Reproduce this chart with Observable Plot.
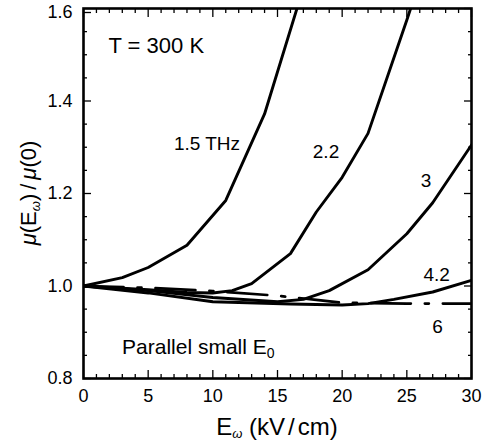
<!DOCTYPE html>
<html><head><meta charset="utf-8">
<script src="https://cdn.jsdelivr.net/npm/d3@7"></script>
<script src="https://cdn.jsdelivr.net/npm/@observablehq/plot@0.6"></script>
<style>body{margin:0;background:#fff;} svg{display:block}</style>
</head><body><div id="chart"></div>
<script>
// Series: x = E_omega (kV/cm), y = mu(E)/mu(0)
const f15x = [0, 3, 5, 8, 11, 14, 17];
const f15y = [1.0, 1.018, 1.04, 1.088, 1.185, 1.372, 1.645];
const f22x = [0, 5, 8, 10, 11.5, 13, 16, 18, 20, 22, 25, 26];
const f22y = [1.0, 0.992, 0.986, 0.985, 0.99, 1.005, 1.07, 1.16, 1.235, 1.33, 1.575, 1.66];
const f3x = [0, 5, 10, 15, 17, 19, 22, 25, 27, 30];
const f3y = [1.0, 0.99, 0.975, 0.966, 0.971, 0.99, 1.035, 1.113, 1.18, 1.305];
const f42x = [0, 5, 10, 16, 20, 22, 24, 27, 30];
const f42y = [1.0, 0.985, 0.966, 0.961, 0.959, 0.962, 0.971, 0.987, 1.012];
const f6x = [0, 5, 10, 15, 18, 20, 25, 30];
const f6y = [1.0, 0.996, 0.989, 0.979, 0.97, 0.964, 0.962, 0.962];

const xMajor = [0, 5, 10, 15, 20, 25, 30];
const xMinor = d3.range(0, 31, 1).filter(v => v % 5 !== 0);
const yMajor = [0.8, 1.0, 1.2, 1.4, 1.6];
const yMinor = [0.85, 0.9, 0.95, 1.05, 1.1, 1.15, 1.25, 1.3, 1.35, 1.45, 1.5, 1.55];

const curveLabels = [
  {x: 9.55, y: 1.308, text: "1.5 THz"},
  {x: 18.75, y: 1.291, text: "2.2"},
  {x: 26.49, y: 1.2266, text: "3"},
  {x: 27.3, y: 1.025, text: "4.2"},
  {x: 27.38, y: 0.911, text: "6"}
];

const toRows = (xs, ys) => xs.map((x, i) => ({x, y: ys[i]}));
const solid = [toRows(f15x, f15y), toRows(f22x, f22y), toRows(f3x, f3y), toRows(f42x, f42y)];
const dashed = toRows(f6x, f6y);

const FONT = "'Liberation Sans', Arial, Helvetica, sans-serif";
const yLow = yMajor.slice(0, -1), yTop = yMajor.slice(-1);

const chart = Plot.plot({
  width: 482, height: 444,
  marginLeft: 83, marginRight: 11, marginTop: 8, marginBottom: 66,
  style: {fontFamily: FONT, fontSize: "18px", color: "black", background: "white"},
  x: {domain: [0, 30]},
  y: {domain: [0.8, 1.6]},
  marks: [
    ...solid.map(d => Plot.line(d, {x: "x", y: "y", stroke: "black", strokeWidth: 2.9, clip: true})),
    Plot.line(dashed, {x: "x", y: "y", stroke: "black", strokeWidth: 2.7, strokeDasharray: "40,14,4,14", clip: true}),
    Plot.axisX(xMajor, {anchor: "bottom", tickSize: -8, tickPadding: 19, strokeWidth: 1.3, tickFormat: d => String(d), label: null, fontSize: 18}),
    Plot.axisX(xMinor, {anchor: "bottom", tickSize: -4, strokeWidth: 1.3, tickFormat: () => "", label: null}),
    Plot.axisX(xMajor, {anchor: "top", tickSize: -8, strokeWidth: 1.3, tickFormat: () => "", label: null}),
    Plot.axisX(xMinor, {anchor: "top", tickSize: -4, strokeWidth: 1.3, tickFormat: () => "", label: null}),
    Plot.axisY(yLow, {anchor: "left", tickSize: -8, tickPadding: 19, strokeWidth: 1.3, tickFormat: d => d.toFixed(1), label: null, fontSize: 18}),
    Plot.axisY(yTop, {anchor: "left", tickSize: -8, tickPadding: 19, strokeWidth: 1.3, tickFormat: d => d.toFixed(1), label: null, fontSize: 18, dy: 4}),
    Plot.axisY(yMinor, {anchor: "left", tickSize: -4, strokeWidth: 1.3, tickFormat: () => "", label: null}),
    Plot.axisY(yMajor, {anchor: "right", tickSize: -8, strokeWidth: 1.3, tickFormat: () => "", label: null}),
    Plot.axisY(yMinor, {anchor: "right", tickSize: -4, strokeWidth: 1.3, tickFormat: () => "", label: null}),
    Plot.frame({stroke: "black", strokeWidth: 2.6}),
    Plot.text(curveLabels, {x: "x", y: "y", text: "text", fontSize: 19, fill: "black", lineAnchor: "middle"}),
    Plot.text(["T = 300 K"], {x: 1.93, y: 1.52, text: d => d, textAnchor: "start", fontSize: 22, fill: "black", lineAnchor: "middle"})
  ]
});

document.getElementById("chart").appendChild(chart);

// Labels with subscripts
const svg = d3.select(chart);
const sx = chart.scale("x"), sy = chart.scale("y");

// Parallel small E0
const p = svg.append("text")
  .attr("x", sx.apply(3.02)).attr("y", sy.apply(0.8677)).attr("dy", "0.36em")
  .attr("text-anchor", "start")
  .attr("font-family", FONT).attr("font-size", 21).attr("fill", "black");
p.append("tspan").text("Parallel small E");
p.append("tspan").attr("font-size", 14).attr("dy", 4).text("0");

// x-axis label
const xl = svg.append("text")
  .attr("x", (sx.range[0] + sx.range[1]) / 2).attr("y", 435)
  .attr("text-anchor", "middle")
  .attr("font-family", FONT).attr("font-size", 24).attr("fill", "black");
xl.append("tspan").text("E");
xl.append("tspan").attr("font-size", 13).attr("font-style", "italic").attr("dy", 3).text("ω");
xl.append("tspan").attr("dy", -3).text(" (kV");
xl.append("tspan").attr("dx", 3).text("/");
xl.append("tspan").attr("dx", 3).text("cm)");

// y-axis label
const yl = svg.append("text")
  .attr("transform", `translate(36,193) rotate(-90)`)
  .attr("text-anchor", "middle")
  .attr("font-family", FONT).attr("font-size", 22).attr("fill", "black");
yl.append("tspan").attr("font-style", "italic").text("μ");
yl.append("tspan").text("(E");
yl.append("tspan").attr("font-size", 13).attr("font-style", "italic").attr("dy", 4).text("ω");
yl.append("tspan").attr("dy", -4).text(")");
yl.append("tspan").attr("dx", 4).text("/");
yl.append("tspan").attr("dx", 4).attr("font-style", "italic").text("μ");
yl.append("tspan").text("(0)");
</script>
</body></html>
